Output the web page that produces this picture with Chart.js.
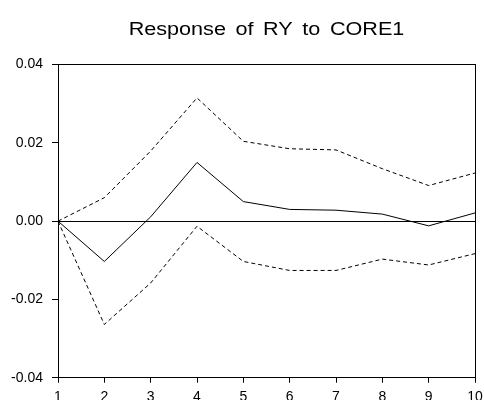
<!DOCTYPE html>
<html>
<head>
<meta charset="utf-8">
<script src="https://cdn.jsdelivr.net/npm/chart.js@4"></script>
<style>
html,body{margin:0;padding:0;background:#fff;}
#wrap{width:484px;height:400px;}
</style>
</head>
<body>
<div id="wrap"><canvas id="c" width="484" height="400"></canvas></div>
<script>
const periods = [1, 2, 3, 4, 5, 6, 7, 8, 9, 10];
const response = [0, -0.0103, 0.0011, 0.0150, 0.0050, 0.0030, 0.0028, 0.0018, -0.0012, 0.0021];
const upperBand = [0, 0.0060, 0.0179, 0.0315, 0.0204, 0.0185, 0.0182, 0.0134, 0.0091, 0.0123];
const lowerBand = [0, -0.0264, -0.0158, -0.0013, -0.0103, -0.0126, -0.0126, -0.0097, -0.0112, -0.0083];
const yTicks = [-0.04, -0.02, 0.00, 0.02, 0.04];
const titleText = 'Response of RY to CORE1';

const pts = arr => arr.map((v, i) => ({x: periods[i], y: v}));
const FONT = '"Liberation Sans", Arial, sans-serif';

const titleStretchPlugin = {
  id: 'titleStretch',
  beforeDraw(chart) {
    const s = chart.scales.xTop;
    if (s && !s._patched) {
      const orig = s.drawTitle;
      s.drawTitle = function() {
        const ctx = this.ctx;
        const cx = (this.left + this.right) / 2;
        ctx.save();
        ctx.translate(cx, 0);
        ctx.scale(1.2, 1);
        ctx.translate(-cx, 0);
        ctx.wordSpacing = '3px';
        orig.apply(this, arguments);
        ctx.restore();
      };
      s._patched = true;
    }
  }
};

new Chart(document.getElementById('c'), {
  type: 'line',
  data: {
    datasets: [
      {data: pts(upperBand), borderColor: '#000', borderWidth: 1, borderDash: [4, 3], pointRadius: 0, tension: 0, fill: false},
      {data: pts(response), borderColor: '#000', borderWidth: 1, pointRadius: 0, tension: 0, fill: false},
      {data: pts(lowerBand), borderColor: '#000', borderWidth: 1, borderDash: [4, 3], pointRadius: 0, tension: 0, fill: false}
    ]
  },
  plugins: [titleStretchPlugin],
  options: {
    responsive: false,
    animation: false,
    devicePixelRatio: 1,
    layout: {padding: {top: 10, left: 0, right: 9, bottom: 0}},
    plugins: {legend: {display: false}, tooltip: {enabled: false}, title: {display: false}},
    scales: {
      x: {
        type: 'linear', position: 'bottom', min: 1, max: 10,
        afterFit: s => { s.height = 22.3; s.paddingRight = 0; s.paddingLeft = 0; },
        ticks: {stepSize: 1, color: '#000', padding: 6, font: {family: FONT, size: 14}, maxRotation: 0},
        grid: {drawOnChartArea: false, drawTicks: true, tickLength: 5, tickColor: '#000', color: '#000'},
        border: {display: true, color: '#000', width: 1}
      },
      y: {
        type: 'linear', position: 'left', min: -0.04, max: 0.04,
        afterFit: s => { s.width = 58; },
        afterBuildTicks: s => { s.ticks = yTicks.map(v => ({value: v})); },
        ticks: {color: '#000', padding: 9, font: {family: FONT, size: 14}, callback: v => Number(v).toFixed(2)},
        grid: {drawOnChartArea: true, drawTicks: true, tickLength: 6, tickColor: '#000',
               color: ctx => (ctx.tick && Math.abs(ctx.tick.value) < 1e-9) ? '#000' : 'rgba(0,0,0,0)', lineWidth: 1},
        border: {display: true, color: '#000', width: 1}
      },
      xTop: {
        type: 'linear', position: 'top', min: 1, max: 10,
        afterFit: s => { s.paddingRight = 0; s.paddingLeft = 0; },
        ticks: {display: false},
        grid: {drawOnChartArea: false, drawTicks: false, tickLength: 0},
        border: {display: true, color: '#000', width: 1},
        title: {display: true, text: titleText, color: '#000', font: {family: FONT, size: 18}, padding: {top: 9, bottom: 24}}
      },
      yRight: {
        type: 'linear', position: 'right', min: -0.04, max: 0.04,
        afterFit: s => { s.width = 0; },
        ticks: {display: false},
        grid: {drawOnChartArea: false, drawTicks: false, tickLength: 0},
        border: {display: true, color: '#000', width: 1}
      }
    }
  }
});
</script>
</body>
</html>
